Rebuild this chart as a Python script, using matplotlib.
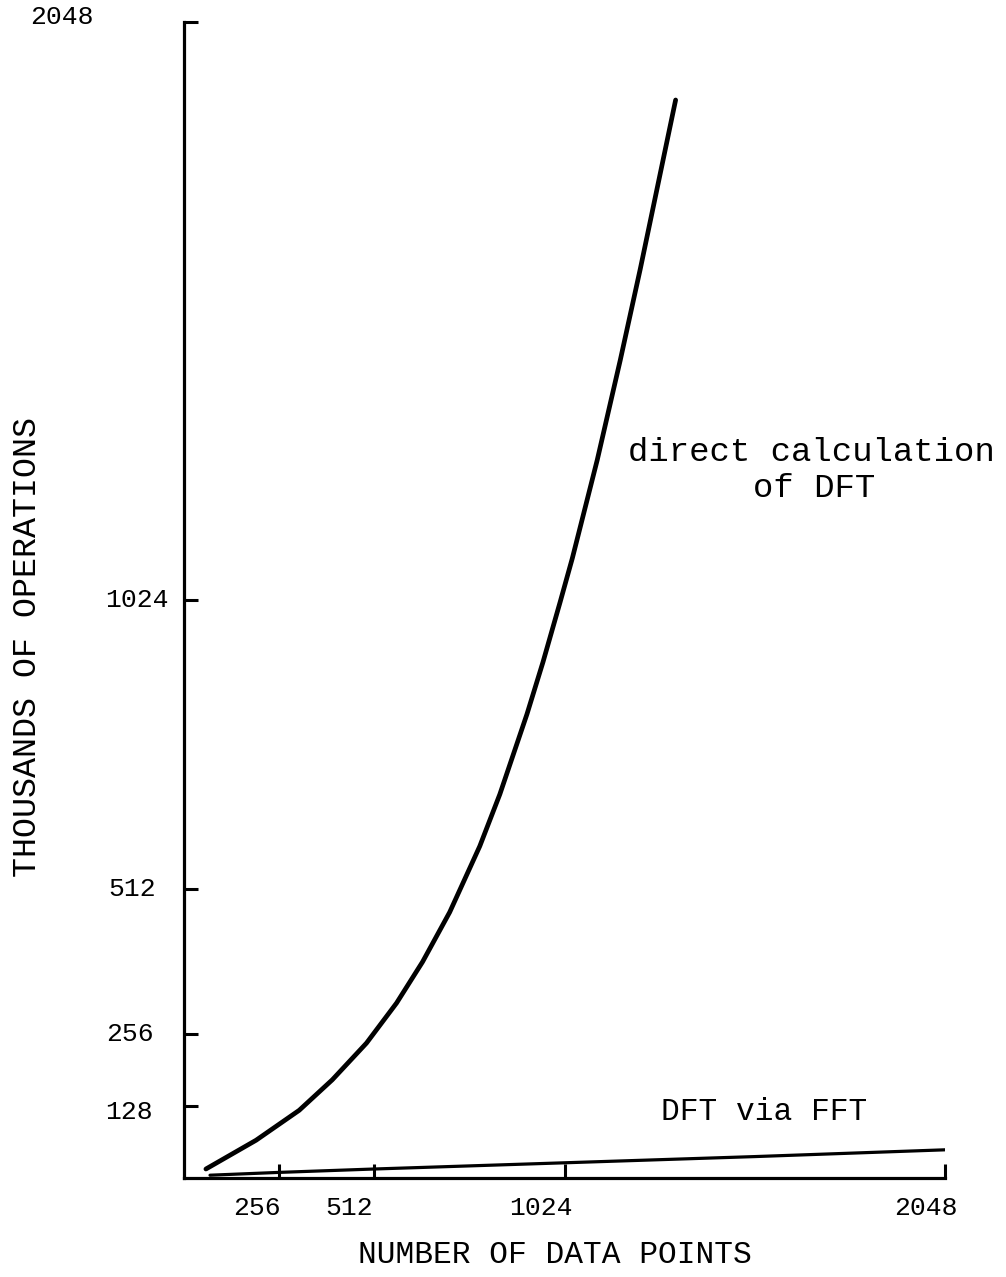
import matplotlib.pyplot as plt

# operation counts (thousands) against number of data points
direct_n = [59, 194, 310, 399, 491, 572, 642, 715, 796, 850, 923, 966, 1012, 1045, 1112, 1174, 1228, 1323]
direct_ops = [16, 67, 120, 174, 239, 310, 383, 471, 588, 680, 822, 914, 1020, 1098, 1272, 1449, 1611, 1910]

fft_n = [70, 256, 512, 1024, 1536, 2048]
fft_ops = [5, 10, 16, 27, 38, 50]

x_ticks = [256, 512, 1024, 2048]
x_labels = ['256', '512', '1024', '2048']
y_ticks = [128, 256, 512, 1024, 2048]
y_labels = ['128', '256', '512', '1024', '2048']

# typed labels sit a little off their ticks (offsets in pixels)
x_label_shift = [-22, -25, -24, -19]
y_label_shift = [(-55, -6), (-54, 0), (-52, 0), (-47, 0), (-122, 5)]

plt.rcParams['font.family'] = ['Liberation Mono', 'DejaVu Sans Mono']

fig = plt.figure(figsize=(10.06, 12.77), dpi=100)
ax = fig.add_axes([0.1829, 0.0775, 0.7565, 0.9052])

ax.plot(direct_n, direct_ops, color='black', lw=3.4, solid_capstyle='round', solid_joinstyle='round')
ax.plot(fft_n, fft_ops, color='black', lw=2.3, solid_capstyle='round')

ax.set_xlim(0, 2048)
ax.set_ylim(0, 2048)
for side in ['top', 'right']:
    ax.spines[side].set_visible(False)
for side in ['left', 'bottom']:
    ax.spines[side].set_linewidth(2.3)

ax.set_xticks(x_ticks)
ax.set_yticks(y_ticks)
ax.set_xticklabels([])
ax.set_yticklabels([])
ax.tick_params(direction='in', length=10, width=2.2, color='black')

for v, lab, dx in zip(x_ticks, x_labels, x_label_shift):
    ax.annotate(lab, xy=(v, 0), xytext=(dx, -30), textcoords='offset pixels',
                ha='center', va='center', fontsize=19)
for v, lab, (dx, dy) in zip(y_ticks, y_labels, y_label_shift):
    ax.annotate(lab, xy=(0, v), xytext=(dx, dy), textcoords='offset pixels',
                ha='center', va='center', fontsize=19)

ax.text(1196, 1285, 'direct calculation', fontsize=24.5, ha='left', va='center')
ax.text(1530, 1222, 'of DFT', fontsize=24.5, ha='left', va='center')
ax.text(1283, 117, 'DFT via FFT', fontsize=22.5, ha='left', va='center')

fig.text(555 / 1006, 1 - 1255 / 1277, 'NUMBER OF DATA POINTS', fontsize=22.5,
         ha='center', va='center')
fig.text(28 / 1006, 1 - 647 / 1277, 'THOUSANDS OF OPERATIONS', fontsize=24,
         ha='center', va='center', rotation=90)

fig.savefig('out.png', dpi=100)
